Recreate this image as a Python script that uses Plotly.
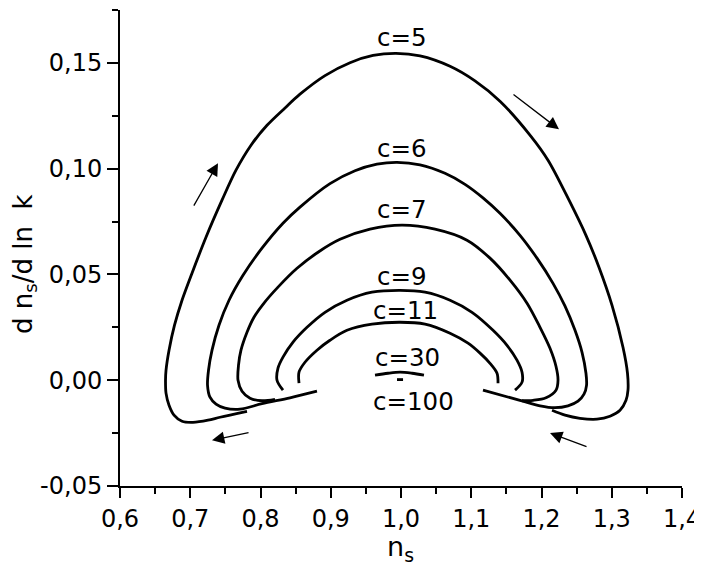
import plotly.graph_objects as go

# ---- data (n_s, d n_s / d ln k) ----
c5_ns = [0.7808, 0.7424, 0.7253, 0.7039, 0.6883, 0.6769, 0.6698, 0.6655, 0.6648, 0.6655,
         0.6698, 0.6776, 0.6883, 0.7025, 0.7224, 0.7452, 0.7651, 0.7865, 0.8093, 0.8349,
         0.8562, 0.8918, 0.9274, 0.9602, 0.9929, 1.0271, 1.0698, 1.1053, 1.1409, 1.1850,
         1.2093, 1.2392, 1.2633, 1.2818, 1.3004, 1.3160, 1.3224, 1.3231, 1.3203, 1.3118,
         1.2975, 1.2790, 1.2548, 1.2335, 1.2150]
c5_run = [-0.0147, -0.0175, -0.0189, -0.0199, -0.0194, -0.0165, -0.0118, -0.0061, 0.0000, 0.0047,
          0.0142, 0.0260, 0.0378, 0.0506, 0.0676, 0.0851, 0.0993, 0.1111, 0.1205, 0.1287,
          0.1352, 0.1440, 0.1501, 0.1535, 0.1545, 0.1533, 0.1484, 0.1415, 0.1319, 0.1153,
          0.1040, 0.0851, 0.0685, 0.0534, 0.0354, 0.0156, 0.0033, -0.0047, -0.0095, -0.0142,
          -0.0170, -0.0184, -0.0180, -0.0165, -0.0142]

c6_ns = [0.8804, 0.8420, 0.8021, 0.7708, 0.7495, 0.7367, 0.7281, 0.7246, 0.7260, 0.7310,
         0.7409, 0.7552, 0.7751, 0.8021, 0.8320, 0.8562, 0.8989, 0.9345, 0.9658, 0.9943,
         1.0271, 1.0626, 1.0911, 1.1167, 1.1409, 1.1694, 1.1936, 1.2164, 1.2335, 1.2477,
         1.2577, 1.2633, 1.2641, 1.2605, 1.2520, 1.2377, 1.2192, 1.1979, 1.1694, 1.1167]
c6_run = [-0.0052, -0.0083, -0.0111, -0.0137, -0.0132, -0.0113, -0.0080, -0.0024, 0.0047, 0.0142,
          0.0260, 0.0378, 0.0496, 0.0624, 0.0742, 0.0818, 0.0929, 0.0990, 0.1021, 0.1030,
          0.1018, 0.0978, 0.0926, 0.0862, 0.0789, 0.0685, 0.0577, 0.0458, 0.0350, 0.0236,
          0.0132, 0.0033, -0.0024, -0.0066, -0.0099, -0.0121, -0.0130, -0.0121, -0.0095, -0.0047]

c7_ns = [0.8206, 0.8021, 0.7851, 0.7737, 0.7680, 0.7687, 0.7722, 0.7808, 0.7907, 0.8036,
         0.8249, 0.8520, 0.8819, 0.9132, 0.9559, 1.0014, 1.0484, 1.0939, 1.1267, 1.1552,
         1.1794, 1.1979, 1.2121, 1.2206, 1.2235, 1.2206, 1.2064, 1.1879, 1.1723]
c7_run = [-0.0090, -0.0097, -0.0085, -0.0052, 0.0000, 0.0071, 0.0142, 0.0227, 0.0298, 0.0359,
          0.0440, 0.0529, 0.0605, 0.0666, 0.0714, 0.0733, 0.0714, 0.0662, 0.0577, 0.0473,
          0.0364, 0.0250, 0.0151, 0.0066, 0.0000, -0.0047, -0.0083, -0.0095, -0.0097]

c9_ns = [0.8320, 0.8235, 0.8249, 0.8320, 0.8463, 0.8662, 0.8918, 0.9231, 0.9587, 0.9986,
         1.0342, 1.0698, 1.1011, 1.1310, 1.1509, 1.1651, 1.1723, 1.1723, 1.1623]
c9_run = [-0.0047, 0.0000, 0.0057, 0.0109, 0.0180, 0.0250, 0.0321, 0.0378, 0.0416, 0.0425,
          0.0416, 0.0378, 0.0321, 0.0236, 0.0165, 0.0095, 0.0038, -0.0009, -0.0047]

c11_ns = [0.8548, 0.8548, 0.8633, 0.8804, 0.8989, 0.9231, 0.9587, 0.9986, 1.0342, 1.0698,
          1.0954, 1.1125, 1.1267, 1.1367, 1.1381]
c11_run = [-0.0014, 0.0038, 0.0085, 0.0142, 0.0189, 0.0236, 0.0265, 0.0274, 0.0265, 0.0222,
           0.0175, 0.0128, 0.0080, 0.0033, -0.0014]

c30_ns = [0.9630, 0.9815, 0.9986, 1.0157, 1.0327]
c30_run = [0.0024, 0.0033, 0.0038, 0.0033, 0.0024]

c100_ns = [0.9943, 1.0029]
c100_run = [0.0003, 0.0003]

curves = [
    ("c=5", c5_ns, c5_run),
    ("c=6", c6_ns, c6_run),
    ("c=7", c7_ns, c7_run),
    ("c=9", c9_ns, c9_run),
    ("c=11", c11_ns, c11_run),
    ("c=30", c30_ns, c30_run),
    ("c=100", c100_ns, c100_run),
]

label_text = ["c=5", "c=6", "c=7", "c=9", "c=11", "c=30", "c=100"]
label_ns = [1.0014, 1.0014, 1.0014, 1.0014, 1.0071, 1.0086, 1.0171]
label_run = [0.1621, 0.1096, 0.0808, 0.0492, 0.0331, 0.0106, -0.0099]

# direction arrows: (tail n_s, tail run, head n_s, head run)
arrow_tail_ns = [0.7039, 1.1580, 0.7851, 1.2662]
arrow_tail_run = [0.0818, 0.1356, -0.0246, -0.0317]
arrow_head_ns = [0.7395, 1.2249, 0.7310, 1.2121]
arrow_head_run = [0.1026, 0.1186, -0.0284, -0.0250]

x_tickvals = [0.6, 0.7, 0.8, 0.9, 1.0, 1.1, 1.2, 1.3, 1.4]
x_ticktext = ["0,6", "0,7", "0,8", "0,9", "1,0", "1,1", "1,2", "1,3", "1,4"]
y_tickvals = [-0.05, 0.0, 0.05, 0.10, 0.15]
y_ticktext = ["-0,05", "0,00", "0,05", "0,10", "0,15"]

FONT = "DejaVu Sans"

# the page body keeps its default 8px margin, so the figure is 8px smaller
FIG_W, FIG_H = 694, 570
M_L, M_R, M_T, M_B = 112, 20, 2, 92
PW, PH = FIG_W - M_L - M_R, FIG_H - M_T - M_B

fig = go.Figure()
for name, xs, ys in curves:
    fig.add_trace(go.Scatter(
        x=xs, y=ys, mode="lines", name=name,
        line=dict(color="black", width=2.8, shape="spline", smoothing=0.9),
        showlegend=False, hoverinfo="skip"))

for t, lx, ly in zip(label_text, label_ns, label_run):
    fig.add_annotation(x=lx, y=ly, xref="x", yref="y", text=t, showarrow=False,
                       font=dict(family=FONT, size=24.5, color="black"),
                       xanchor="center", yanchor="middle")

for tx, ty, hx, hy in zip(arrow_tail_ns, arrow_tail_run, arrow_head_ns, arrow_head_run):
    fig.add_annotation(x=hx, y=hy, ax=tx, ay=ty, xref="x", yref="y", axref="x", ayref="y",
                       text="", showarrow=True, arrowhead=2, arrowsize=1.9,
                       arrowwidth=1.3, arrowcolor="black")

# axis titles (positions in plot-area fractions)
fig.add_annotation(x=280 / PW, y=-62 / PH, xref="paper", yref="paper",
                   text="n<sub>s</sub>", showarrow=False,
                   font=dict(family=FONT, size=27, color="black"),
                   xanchor="center", yanchor="middle")
fig.add_annotation(x=-96 / PW, y=222 / PH, xref="paper", yref="paper",
                   text="d n<sub>s</sub>/d ln\u00a0\u00a0k", showarrow=False, textangle=-90,
                   font=dict(family=FONT, size=26, color="black"),
                   xanchor="center", yanchor="middle")

fig.update_xaxes(range=[0.6, 1.4], tickvals=x_tickvals, ticktext=x_ticktext,
                 ticks="outside", ticklen=10, tickwidth=2, tickcolor="black",
                 showline=True, linewidth=2, linecolor="black",
                 showgrid=False, zeroline=False,
                 tickfont=dict(family=FONT, size=24, color="black"),
                 minor=dict(ticks="outside", ticklen=6, tickwidth=2, tickcolor="black",
                            tick0=0.6, dtick=0.05, showgrid=False))
fig.update_yaxes(range=[-0.05, 0.175], tickvals=y_tickvals, ticktext=y_ticktext,
                 ticks="outside", ticklen=11, tickwidth=2, tickcolor="black",
                 showline=True, linewidth=2, linecolor="black",
                 showgrid=False, zeroline=False,
                 tickfont=dict(family=FONT, size=24, color="black"),
                 minor=dict(ticks="outside", ticklen=6, tickwidth=2, tickcolor="black",
                            tick0=-0.05, dtick=0.025, showgrid=False))

fig.update_layout(width=FIG_W, height=FIG_H,
                  margin=dict(l=M_L, r=M_R, t=M_T, b=M_B),
                  plot_bgcolor="white", paper_bgcolor="white")

fig.write_html("out.html", config={"displayModeBar": False, "responsive": False})
